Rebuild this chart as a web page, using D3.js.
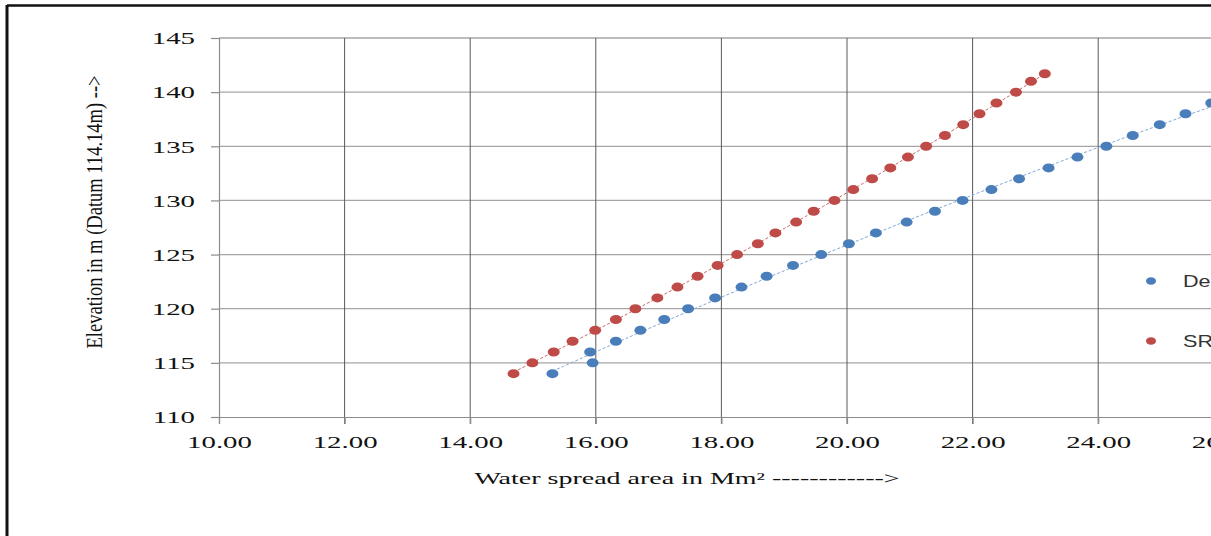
<!DOCTYPE html>
<html>
<head>
<meta charset="utf-8">
<script src="https://cdn.jsdelivr.net/npm/d3@7/dist/d3.min.js"></script>
<style>
  html, body { margin: 0; padding: 0; background: #fff; overflow: hidden; }
  svg { display: block; }
</style>
</head>
<body>
<script>
// ---- Data ----
const designElevation = [114,115,116,117,118,119,120,121,122,123,124,125,126,127,128,129,130,131,132,133,134,135,136,137,138,139];
const designArea      = [15.31,15.95,15.91,16.32,16.71,17.09,17.47,17.90,18.32,18.72,19.14,19.59,20.03,20.46,20.95,21.40,21.84,22.30,22.74,23.21,23.67,24.13,24.55,24.98,25.39,25.80];

const srElevation = [114,115,116,117,118,119,120,121,122,123,124,125,126,127,128,129,130,131,132,133,134,135,136,137,138,139,140,141,141.7];
const srArea      = [14.69,14.99,15.33,15.63,15.99,16.32,16.63,16.98,17.30,17.62,17.94,18.25,18.58,18.86,19.19,19.47,19.80,20.10,20.40,20.69,20.97,21.26,21.56,21.85,22.11,22.38,22.69,22.93,23.15];

const seriesNames = ["Design", "SRSAC"];
const xTicks = [10,12,14,16,18,20,22,24,26,28];
const yTicks = [110,115,120,125,130,135,140,145];
const xTitle = "Water spread area in Mm\u00B2  ------------>";
const yTitle = "Elevation in m (Datum 114.14m) -->";

// ---- Layout ----
const W = 1211, H = 536;
const svg = d3.select("body").append("svg").attr("width", W).attr("height", H);

// outer frame (only top and left edges are in view)
svg.append("line").attr("x1", 7).attr("x2", W + 10).attr("y1", 5.5).attr("y2", 5.5)
  .attr("stroke", "#111").attr("stroke-width", 2.5);
svg.append("line").attr("x1", 7).attr("x2", 7).attr("y1", 5).attr("y2", H + 10)
  .attr("stroke", "#111").attr("stroke-width", 3);

const x = d3.scaleLinear().domain([10, 28]).range([219, 219 + 18 * 62.8]);
const y = d3.scaleLinear().domain([110, 145]).range([417, 38]);

const STRETCH = 1.75;
const serif = "'Liberation Serif', 'Times New Roman', serif";

// gridlines
const g = svg.append("g");
g.selectAll(".hg").data(yTicks.slice(1)).enter().append("line")
  .attr("x1", x(10)).attr("x2", W + 20)
  .attr("y1", d => y(d)).attr("y2", d => y(d))
  .attr("stroke", "#a6a6a6").attr("stroke-width", 1.3);
g.selectAll(".vg").data(xTicks.slice(1)).enter().append("line")
  .attr("x1", d => x(d)).attr("x2", d => x(d))
  .attr("y1", y(145)).attr("y2", y(110) + 7)
  .attr("stroke", "#5a5a5a").attr("stroke-width", 1);

// axes via d3 axis generators
const yAxis = svg.append("g").attr("transform", `translate(${x(10)},0)`)
  .call(d3.axisLeft(y).tickValues(yTicks).tickSize(8).tickFormat(d3.format("d")));
const xAxis = svg.append("g").attr("transform", `translate(0,${y(110)})`)
  .call(d3.axisBottom(x).tickValues(xTicks).tickSize(7).tickFormat(d3.format(".2f")));

[yAxis, xAxis].forEach(a => {
  a.select(".domain").attr("stroke", "#8c8c8c").attr("stroke-width", 1.2);
  a.selectAll(".tick line").attr("stroke", "#8c8c8c").attr("stroke-width", 1.2);
  a.selectAll(".tick text").attr("fill", "#111").style("font-family", serif).style("font-size", "16.5px");
});
yAxis.selectAll(".tick text").attr("x", 0).attr("dy", "0.35em")
  .attr("text-anchor", "end")
  .attr("transform", `translate(-24,0) scale(${STRETCH},1)`);
xAxis.selectAll(".tick text").attr("y", 0).attr("dy", "0")
  .attr("transform", `translate(0,31) scale(${STRETCH},1)`);

// axis titles
svg.append("text")
  .attr("transform", `translate(687,484) scale(${STRETCH},1)`)
  .attr("text-anchor", "middle")
  .style("font-family", serif).style("font-size", "16px").attr("fill", "#111")
  .text(xTitle);
svg.append("text")
  .attr("transform", `translate(102,212) scale(1.4,1) rotate(-90)`)
  .attr("text-anchor", "middle")
  .style("font-family", serif).style("font-size", "16.5px").attr("fill", "#111")
  .attr("textLength", 273).attr("lengthAdjust", "spacingAndGlyphs")
  .text(yTitle);

// quadratic least-squares trend (elevation as function of area)
function quadFit(xs, ys) {
  let n = xs.length, s = [0,0,0,0,0], t = [0,0,0];
  for (let i = 0; i < n; i++) {
    const xi = xs[i], yi = ys[i];
    let p = 1;
    for (let k = 0; k < 5; k++) { s[k] += p; p *= xi; }
    t[0] += yi; t[1] += yi * xi; t[2] += yi * xi * xi;
  }
  const M = [[s[0],s[1],s[2],t[0]],[s[1],s[2],s[3],t[1]],[s[2],s[3],s[4],t[2]]];
  for (let c = 0; c < 3; c++) {
    for (let r = c + 1; r < 3; r++) {
      const f = M[r][c] / M[c][c];
      for (let k = c; k < 4; k++) M[r][k] -= f * M[c][k];
    }
  }
  const co = [0,0,0];
  for (let r = 2; r >= 0; r--) {
    let v = M[r][3];
    for (let k = r + 1; k < 3; k++) v -= M[r][k] * co[k];
    co[r] = v / M[r][r];
  }
  return xv => co[0] + co[1] * xv + co[2] * xv * xv;
}

const series = [
  { name: seriesNames[0], xs: designArea, ys: designElevation, color: "#4a7ebb", line: "#7fa6d6" },
  { name: seriesNames[1], xs: srArea, ys: srElevation, color: "#be4b48", line: "#c96a67" }
];

series.forEach(s => {
  const f = quadFit(s.xs, s.ys);
  const x0 = d3.min(s.xs), x1 = d3.max(s.xs);
  const pts = d3.range(0, 61).map(i => x0 + (x1 - x0) * i / 60);
  svg.append("path")
    .datum(pts)
    .attr("d", d3.line().x(d => x(d)).y(d => y(f(d))))
    .attr("fill", "none").attr("stroke", s.line).attr("stroke-width", 1)
    .attr("stroke-dasharray", "3,2");
  svg.append("g").selectAll("ellipse")
    .data(s.xs.map((v, i) => [v, s.ys[i]]))
    .enter().append("ellipse")
    .attr("cx", d => x(d[0])).attr("cy", d => y(d[1]))
    .attr("rx", 6).attr("ry", 4.5)
    .attr("fill", s.color);
});

// legend (clipped at the right edge like the reference)
const legend = svg.append("g");
series.forEach((s, i) => {
  const ly = 281 + i * 60;
  legend.append("ellipse").attr("cx", 1151).attr("cy", ly).attr("rx", 5).attr("ry", 3.8).attr("fill", s.color);
  legend.append("text")
    .attr("transform", `translate(1183,${ly + 6}) scale(1.35,1)`)
    .style("font-family", "'Liberation Sans', Arial, sans-serif").style("font-size", "16px")
    .attr("fill", "#333")
    .text(s.name);
});
</script>
</body>
</html>
